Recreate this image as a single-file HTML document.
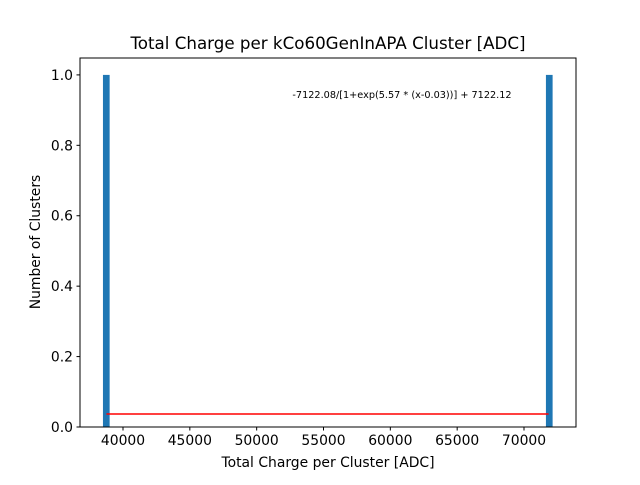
<!DOCTYPE html>
<html><head><meta charset="utf-8"><style>
body{margin:0;background:#fff;}
svg text{font-family:"DejaVu Sans","Liberation Sans",sans-serif;}
</style></head><body>
<svg id="chart" width="640" height="480" viewBox="0 0 640 480">
<rect width="640" height="480" fill="#fff"/>
<g id="bars"></g>
<g id="fit"></g>
<rect x="80" y="58" width="496" height="369" fill="none" stroke="#000" stroke-width="1"/>
<g id="xticks"></g><g id="yticks"></g>
<text x="328" y="49" font-size="16.7" text-anchor="middle">Total Charge per kCo60GenInAPA Cluster [ADC]</text>
<text x="328" y="467" font-size="13.9" text-anchor="middle">Total Charge per Cluster [ADC]</text>
<text transform="translate(40,242) rotate(-90)" font-size="13.9" text-anchor="middle">Number of Clusters</text>
<text x="402" y="98" font-size="9.7" text-anchor="middle">-7122.08/[1+exp(5.57 * (x-0.03))] + 7122.12</text>
</svg>
<script>
const binStarts=[38500,71640];
const binCounts=[1,1];
const binWidth=500;
const xTicks=[40000,45000,50000,55000,60000,65000,70000];
const yTicks=[0.0,0.2,0.4,0.6,0.8,1.0];
const fitRange=[38760,71840];
const fitValue=0.037;
const X0=36783,X1=73890,Y0=0,Y1=1.048;
function sx(v){return 80+(v-X0)/(X1-X0)*496;}
function sy(v){return 427-(v-Y0)/(Y1-Y0)*369;}
const NS="http://www.w3.org/2000/svg";
function mk(t,a,p){const e=document.createElementNS(NS,t);for(const k in a)e.setAttribute(k,a[k]);p.appendChild(e);return e;}
const bars=document.getElementById('bars');
binStarts.forEach((s,i)=>{
 const r=mk('rect',{x:sx(s),y:sy(binCounts[i]),width:sx(s+binWidth)-sx(s),height:sy(0)-sy(binCounts[i]),fill:'#1f77b4'},bars);
 
 
});
const fit=document.getElementById('fit');
const l=mk('line',{x1:sx(fitRange[0]),x2:sx(fitRange[1]),y1:sy(fitValue),y2:sy(fitValue),stroke:'#ff0000','stroke-width':1.5},fit);


const xt=document.getElementById('xticks');
xTicks.forEach(v=>{
 mk('line',{x1:sx(v),x2:sx(v),y1:427,y2:430.5,stroke:'#000'},xt);
 const t=mk('text',{x:sx(v),y:445,'font-size':13.9,'text-anchor':'middle'},xt);
 t.textContent=v;
 
 
});
const yt=document.getElementById('yticks');
yTicks.forEach(v=>{
 mk('line',{x1:76.5,x2:80,y1:sy(v),y2:sy(v),stroke:'#000'},yt);
 const t=mk('text',{x:73,y:sy(v)+5,'font-size':13.9,'text-anchor':'end'},yt);
 t.textContent=v.toFixed(1);
 
 
});
</script>
</body></html>
